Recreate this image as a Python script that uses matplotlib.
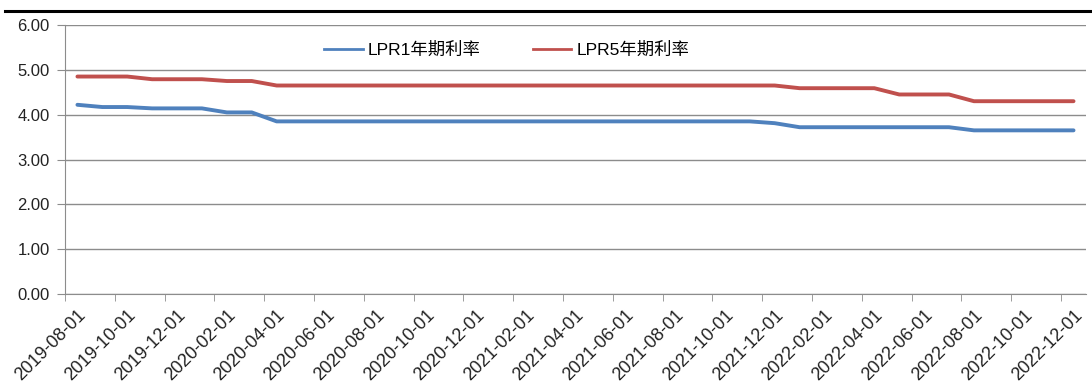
import matplotlib
matplotlib.use("Agg")
import matplotlib.pyplot as plt
from matplotlib.lines import Line2D
import numpy as np

plt.rcParams['font.family'] = ['Liberation Sans', 'Noto Sans CJK SC', 'DejaVu Sans']

# monthly LPR quotes, 2019-08 .. 2022-12
months = ["2019-08-01", "2019-09-01", "2019-10-01", "2019-11-01", "2019-12-01",
          "2020-01-01", "2020-02-01", "2020-03-01", "2020-04-01", "2020-05-01",
          "2020-06-01", "2020-07-01", "2020-08-01", "2020-09-01", "2020-10-01",
          "2020-11-01", "2020-12-01", "2021-01-01", "2021-02-01", "2021-03-01",
          "2021-04-01", "2021-05-01", "2021-06-01", "2021-07-01", "2021-08-01",
          "2021-09-01", "2021-10-01", "2021-11-01", "2021-12-01", "2022-01-01",
          "2022-02-01", "2022-03-01", "2022-04-01", "2022-05-01", "2022-06-01",
          "2022-07-01", "2022-08-01", "2022-09-01", "2022-10-01", "2022-11-01",
          "2022-12-01"]

lpr1 = [4.22, 4.17, 4.17, 4.14, 4.14, 4.14, 4.05, 4.05,
        3.85, 3.85, 3.85, 3.85, 3.85, 3.85, 3.85, 3.85, 3.85, 3.85,
        3.85, 3.85, 3.85, 3.85, 3.85, 3.85, 3.85, 3.85, 3.85, 3.85,
        3.81, 3.72, 3.72, 3.72, 3.72, 3.72, 3.72, 3.72,
        3.65, 3.65, 3.65, 3.65, 3.65]

lpr5 = [4.85, 4.85, 4.85, 4.79, 4.79, 4.79, 4.75, 4.75,
        4.65, 4.65, 4.65, 4.65, 4.65, 4.65, 4.65, 4.65, 4.65, 4.65,
        4.65, 4.65, 4.65, 4.65, 4.65, 4.65, 4.65, 4.65, 4.65, 4.65,
        4.65, 4.59, 4.59, 4.59, 4.59, 4.45, 4.45, 4.45,
        4.30, 4.30, 4.30, 4.30, 4.30]

series_names = ["LPR1年期利率", "LPR5年期利率"]
colors = ["#4F81BD", "#C0504D"]

fig = plt.figure(figsize=(10.92, 3.9), dpi=100)
ax = fig.add_axes([0.0595, 0.246, 0.935, 0.690])

x = np.arange(len(months))
ax.plot(x, lpr1, color=colors[0], lw=2.8, solid_capstyle="round")
ax.plot(x, lpr5, color=colors[1], lw=2.8, solid_capstyle="round")

ax.set_xlim(-0.5, len(months) - 0.5)
ax.set_ylim(0, 6)
ax.set_yticks(np.arange(0, 7, 1))
ax.set_yticklabels([f"{v:.2f}" for v in np.arange(0, 7, 1)])
ax.yaxis.grid(True, color="#8c8c8c", lw=1)
ax.set_axisbelow(True)

# labels on every other category, tick marks on category boundaries
ax.set_xticks(x[::2])
ax.set_xticklabels(months[::2], rotation=45, ha="right", rotation_mode="anchor")
ax.set_xticks(np.arange(-0.5, len(months) - 1, 2), minor=True)
ax.tick_params(axis="x", which="major", length=0, pad=9, labelsize=13, colors="#222222")
ax.tick_params(axis="x", which="minor", length=5, color="#8c8c8c")
ax.tick_params(axis="y", length=6, color="#8c8c8c", labelsize=12, labelcolor="#222222", pad=5)

for s in ["top", "right"]:
    ax.spines[s].set_visible(False)
for s in ["left", "bottom"]:
    ax.spines[s].set_color("#8c8c8c")

handles = [Line2D([], [], color=c, lw=2.0) for c in colors]
fig.legend(handles, series_names, loc="center", bbox_to_anchor=(0.464, 0.872),
           ncol=2, frameon=False, fontsize=12.5, handlelength=2.2,
           columnspacing=3.0, handletextpad=0.3)

# black rule at top
fig.add_artist(Line2D([0.005, 1.0], [0.972, 0.972], color="black", lw=2.2,
                      transform=fig.transFigure))

fig.savefig("out.png", dpi=100)
